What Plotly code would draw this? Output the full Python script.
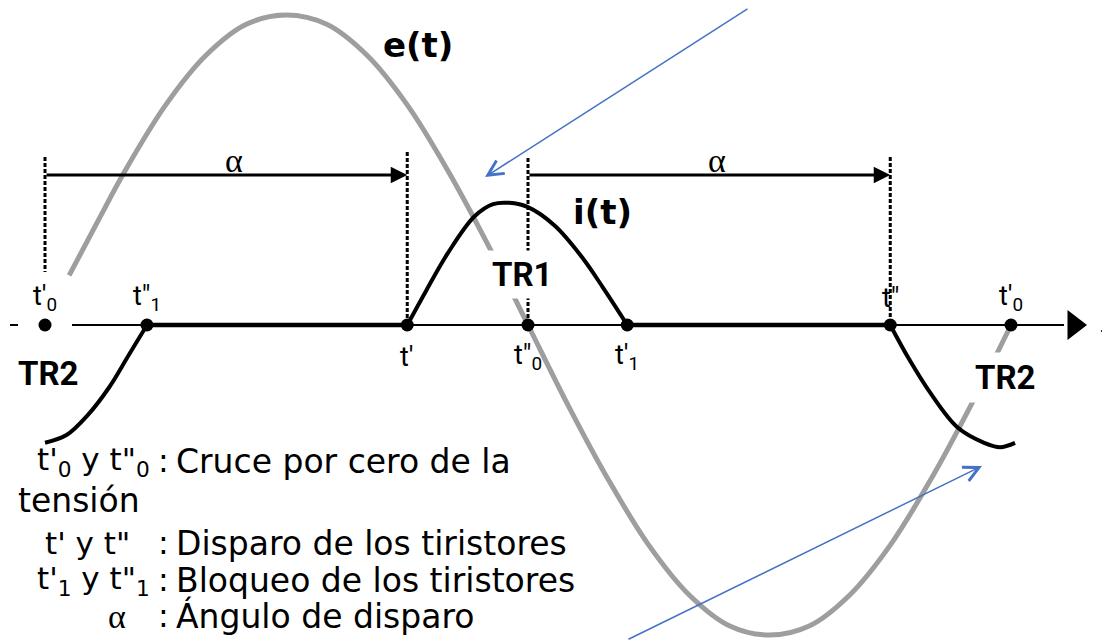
import plotly.graph_objects as go

# ---------------- data (angle in degrees, amplitude in p.u. of e(t) peak) ----------------
e_deg = [9, 20, 30, 45, 60, 75, 90, 105, 120, 135, 150, 165, 180,
         195, 210, 225, 240, 255, 270, 285, 300, 315, 330, 345, 360]
e_val = [0.16, 0.34, 0.50, 0.71, 0.87, 0.97, 1.00, 0.97, 0.87, 0.71, 0.50, 0.26, 0.0,
         -0.26, -0.50, -0.71, -0.87, -0.97, -1.00, -0.97, -0.87, -0.71, -0.50, -0.26, 0.0]

# i(t) : TR2 tail (left), TR1 pulse, TR2 pulse (right)
i_left_deg = [0, 8, 16, 24, 31, 38]
i_left_val = [-0.38, -0.355, -0.29, -0.20, -0.10, 0.0]
i_tr1_deg = [135, 142, 150, 160, 167, 173, 180, 190, 200, 208, 217]
i_tr1_val = [0.0, 0.11, 0.23, 0.35, 0.39, 0.394, 0.38, 0.32, 0.22, 0.12, 0.0]
i_tr2_deg = [315, 322, 330, 340, 350, 356, 361.5]
i_tr2_val = [0.0, -0.11, -0.22, -0.33, -0.38, -0.394, -0.38]

# zero-current intervals (thyristors blocked)
off_start = [38, 217]
off_end = [135, 315]

# instants on the time axis
event_deg = [0, 38, 135, 180, 217, 315, 360]
event_labels = ["t'<sub>0</sub>", "t\"<sub>1</sub>", "t'", "t\"<sub>0</sub>",
                "t'<sub>1</sub>", "t\"", "t'<sub>0</sub>"]
event_label_above = [True, True, False, False, False, True, True]

alpha_deg = 135  # firing angle
legend_left = ["t'<sub>0</sub> y t\"<sub>0</sub>", "", "t' y t\"",
               "t'<sub>1</sub> y t\"<sub>1</sub>", "α"]
legend_right = ["Cruce por cero de la", "tensión", "Disparo de los tiristores",
                "Bloqueo de los tiristores", "Ángulo de disparo"]

# ---------------- layout helpers (screen pixel -> data) ----------------
PXD = 966.0 / 360.0  # pixels per degree
X0 = 45.0
Y0 = 325.0
PYU = 310.0
PAGE = 8  # default page margin in the browser


def X(px):
    return (px - X0) / PXD


def Y(py):
    return (Y0 - py) / PYU


NARROW = "Roboto, Liberation Sans, sans-serif"
SANS = "DejaVu Sans, Verdana, sans-serif"
SERIF = "Liberation Serif, Times New Roman, serif"

fig = go.Figure()

# time axis (thin)
fig.add_trace(go.Scatter(x=[X(72), X(1064)], y=[0, 0], mode="lines",
                         line=dict(color="black", width=2), hoverinfo="skip"))
fig.add_trace(go.Scatter(x=[X(10), X(18)], y=[0, 0], mode="lines",
                         line=dict(color="black", width=2), hoverinfo="skip"))
fig.add_trace(go.Scatter(x=[X(1074)], y=[0], mode="markers",
                         marker=dict(symbol="triangle-right", size=26, color="black"),
                         hoverinfo="skip"))

# e(t)
fig.add_trace(go.Scatter(x=e_deg, y=e_val, mode="lines", line_shape="spline",
                         line=dict(color="#9e9e9e", width=5), hoverinfo="skip"))

# dotted verticals
for xv, ytop, ybot in [(0, Y(157), Y(272)), (alpha_deg, Y(152), 0),
                       (180, Y(158), 0), (180 + alpha_deg, Y(157), 0)]:
    fig.add_trace(go.Scatter(x=[xv, xv], y=[ytop, ybot], mode="lines",
                             line=dict(color="black", width=3, dash="4px,2px"),
                             hoverinfo="skip"))

# i(t)
for xs, ys in [(i_left_deg, i_left_val), (i_tr1_deg, i_tr1_val), (i_tr2_deg, i_tr2_val)]:
    fig.add_trace(go.Scatter(x=xs, y=ys, mode="lines", line_shape="spline",
                             line=dict(color="black", width=4), hoverinfo="skip"))
for a, b in zip(off_start, off_end):
    fig.add_trace(go.Scatter(x=[a, b], y=[0, 0], mode="lines",
                             line=dict(color="black", width=4.5), hoverinfo="skip"))

# event dots
fig.add_trace(go.Scatter(x=event_deg, y=[0] * len(event_deg), mode="markers",
                         marker=dict(size=13, color="black"), hoverinfo="skip"))

ann = []
# event labels
for xv, lab, above in zip(event_deg, event_labels, event_label_above):
    ann.append(dict(x=xv, y=Y(298) if above else Y(357), text=lab, showarrow=False,
                    font=dict(family=NARROW, size=27, color="black"),
                    xanchor="center", yanchor="middle"))
ann.append(dict(x=X(1099), y=Y(336), text="t", showarrow=False, xanchor="left",
                font=dict(family=NARROW, size=27, color="black")))

# alpha arrows
for start in [0, 180]:
    ann.append(dict(x=start + alpha_deg, y=Y(175), ax=start, ay=Y(175),
                    xref="x", yref="y", axref="x", ayref="y", text="",
                    showarrow=True, arrowhead=2, arrowsize=1.1, arrowwidth=3,
                    arrowcolor="black", standoff=0))
    ann.append(dict(x=start + alpha_deg / 2 + 3, y=Y(160), text="α", showarrow=False,
                    font=dict(family=SERIF, size=34, color="black")))

# curve names
ann.append(dict(x=X(418), y=Y(45), text="<b>e(t)</b>", showarrow=False,
                font=dict(family=SANS, size=34, color="black")))
ann.append(dict(x=X(602), y=Y(212), text="<b>i(t)</b>", showarrow=False,
                font=dict(family=SANS, size=34, color="black")))

# thyristor labels
ann.append(dict(x=X(522), y=Y(274), text="<b>TR1</b>", showarrow=False, bgcolor="white",
                borderpad=4, font=dict(family=NARROW, size=33, color="black")))
ann.append(dict(x=X(48), y=Y(373), text="<b>TR2</b>", showarrow=False,
                font=dict(family=NARROW, size=33, color="black")))
ann.append(dict(x=X(1005), y=Y(377), text="<b>TR2</b>", showarrow=False, bgcolor="white",
                borderpad=5, font=dict(family=NARROW, size=33, color="black")))

# blue callout arrows
ann.append(dict(x=X(485), y=Y(177), ax=X(749), ay=Y(PAGE), xref="x", yref="y",
                axref="x", ayref="y", text="", showarrow=True, arrowhead=5,
                arrowsize=2, arrowwidth=1.5, arrowcolor="#4472c4", standoff=0))
ann.append(dict(x=X(982), y=Y(466), ax=X(627), ay=Y(640), xref="x", yref="y",
                axref="x", ayref="y", text="", showarrow=True, arrowhead=5,
                arrowsize=2, arrowwidth=1.5, arrowcolor="#4472c4", standoff=0))

# legend text
legend_y = [461, 500, 543, 580, 616]
legend_left_edge = [152, 16, 132, 152, 128]
for lt, rt, py, lx in zip(legend_left, legend_right, legend_y, legend_left_edge):
    if lt:
        ann.append(dict(x=X(lx), y=Y(py), text=lt, showarrow=False, xanchor="right",
                        font=dict(family=SERIF if lt == "α" else SANS,
                                  size=34 if lt == "α" else 31, color="black")))
        ann.append(dict(x=X(163), y=Y(py), text=":", showarrow=False, xanchor="center",
                        font=dict(family=SANS, size=32, color="black")))
        ann.append(dict(x=X(174), y=Y(py), text=rt, showarrow=False, xanchor="left",
                        font=dict(family=SANS, size=33, color="black")))
    else:
        ann.append(dict(x=X(lx), y=Y(py), text=rt, showarrow=False, xanchor="left",
                        font=dict(family=SANS, size=33, color="black")))

fig.update_layout(
    width=1110, height=640, margin=dict(l=0, r=0, t=0, b=0),
    paper_bgcolor="white", plot_bgcolor="white", showlegend=False,
    xaxis=dict(range=[X(PAGE), X(1110 + PAGE)], visible=False, fixedrange=True),
    yaxis=dict(range=[Y(640 + PAGE), Y(PAGE)], visible=False, fixedrange=True),
    annotations=ann,
)

fig.write_html("out.html")
